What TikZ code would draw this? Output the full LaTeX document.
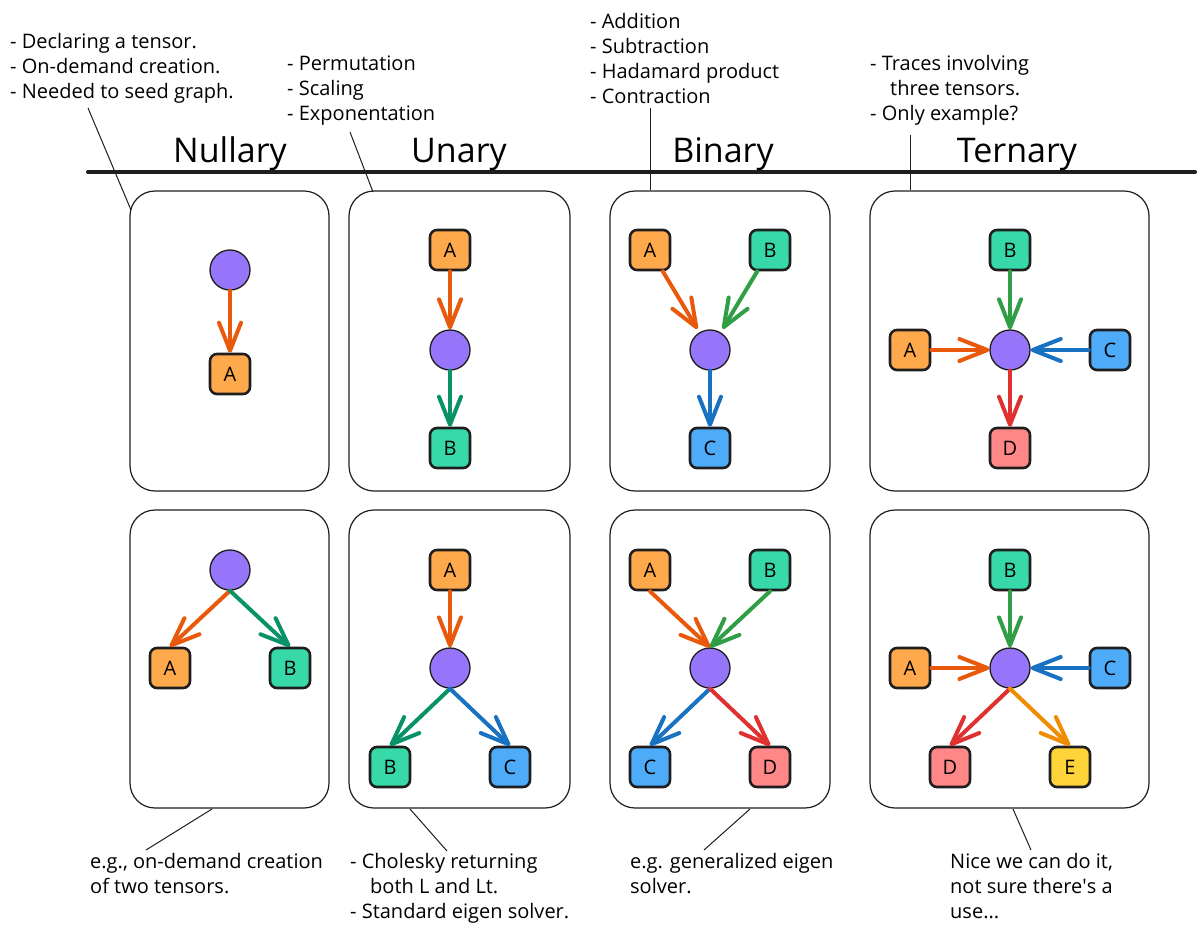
\documentclass[tikz,border=0pt]{standalone}
\usepackage{fontspec}
\setmainfont{Open Sans}
\usetikzlibrary{arrows.meta}
\definecolor{ink}{HTML}{1E1E1E}
\definecolor{opfill}{HTML}{9775FA}
\definecolor{fillA}{HTML}{FFA94D}
\definecolor{fillB}{HTML}{38D9A9}
\definecolor{fillC}{HTML}{4DABF7}
\definecolor{fillD}{HTML}{FF8787}
\definecolor{fillE}{HTML}{FFD43B}
\definecolor{arrA}{HTML}{E8590C}
\definecolor{arrB}{HTML}{2F9E44}
\definecolor{arrT}{HTML}{099268}
\definecolor{arrC}{HTML}{1971C2}
\definecolor{arrD}{HTML}{E03131}
\definecolor{arrE}{HTML}{F08C00}
\tikzset{
  panel/.style={draw=ink, line width=1.2pt, rounded corners=25pt},
  sq/.style={draw=ink, line width=2.6pt, rounded corners=7pt, minimum size=40pt, inner sep=0pt, font=\fontsize{20}{20}\selectfont},
  op/.style={circle, draw=ink, fill=opfill, line width=1.3pt, minimum size=40pt, inner sep=0pt},
  flow/.style={line width=4pt, line cap=round, -{Straight Barb[length=28pt,width=22pt,round]}},
  note/.style={anchor=north west, align=left, inner sep=0pt, font=\fontsize{20}{25}\selectfont},
  head/.style={anchor=base, inner sep=0pt, font=\fontsize{34}{40}\selectfont},
  lead/.style={draw=ink, line width=1pt}
}
\begin{document}
\begin{tikzpicture}[x=1pt,y=-1pt]
\useasboundingbox (0,0) rectangle (1202,935);
\fill[white] (0,0) rectangle (1202,935);

% headline rule
\coordinate (ruleL) at (88,172);
\coordinate (ruleR) at (1195,172);
\draw[ink, line width=4pt, line cap=round] (ruleL) -- (ruleR);

\node[head] (hN) at (230,162) {Nullary};
\node[head] (hU) at (459,162) {Unary};
\node[head] (hB) at (723,162) {Binary};
\node[head] (hT) at (1017,162) {Ternary};

% panels
\draw[panel] (130,191) rectangle (329,491);
\draw[panel] (349,191) rectangle (570,491);
\draw[panel] (610,191) rectangle (830,491);
\draw[panel] (870,191) rectangle (1149,491);
\draw[panel] (130,510) rectangle (329,808);
\draw[panel] (349,510) rectangle (570,808);
\draw[panel] (610,510) rectangle (830,808);
\draw[panel] (870,510) rectangle (1149,808);

% top notes
\node[note] (tN) at (10,30.5) {\strut- Declaring a tensor.\\- On-demand creation.\\- Needed to seed graph.};
\node[note] (tU) at (287,52.5) {\strut- Permutation\\- Scaling\\- Exponentation};
\node[note] (tB) at (590,10.5) {\strut- Addition\\- Subtraction\\- Hadamard product\\- Contraction};
\node[note] (tT) at (870,52.5) {\strut- Traces involving\\\hspace*{20pt}three tensors.\\- Only example?};

% bottom notes
\node[note] (bN) at (90,850.5) {\strut e.g., on-demand creation\\of two tensors.};
\node[note] (bU) at (350,850.5) {\strut- Cholesky returning\\\hspace*{20pt}both L and Lt.\\- Standard eigen solver.};
\node[note] (bB) at (630,850.5) {\strut e.g. generalized eigen\\solver.};
\node[note] (bT) at (950,850.5) {\strut Nice we can do it,\\not sure there\textquotesingle s a\\use...};

% leader lines
\coordinate (lN1) at (88,108);  \coordinate (lN2) at (131,210);
\coordinate (lU1) at (350,132); \coordinate (lU2) at (373,192);
\coordinate (lB1) at (650,108); \coordinate (lB2) at (650,190);
\coordinate (lT1) at (910,135); \coordinate (lT2) at (910,190);
\coordinate (mN1) at (212,809); \coordinate (mN2) at (146,850);
\coordinate (mU1) at (410,809); \coordinate (mU2) at (447,851);
\coordinate (mB1) at (750,809); \coordinate (mB2) at (704,850);
\coordinate (mT1) at (1013,809); \coordinate (mT2) at (1031,850);
\draw[lead] (lN1) -- (lN2);
\draw[lead] (lU1) -- (lU2);
\draw[lead] (lB1) -- (lB2);
\draw[lead] (lT1) -- (lT2);
\draw[lead] (mN1) -- (mN2);
\draw[lead] (mU1) -- (mU2);
\draw[lead] (mB1) -- (mB2);
\draw[lead] (mT1) -- (mT2);

% ---------- row 1 ----------
% nullary
\node[op] (o11) at (230,270) {};
\node[sq, fill=fillA] (A11) at (230,374) {A};
\draw[flow, arrA] (o11) -- (A11);
% unary
\node[sq, fill=fillA] (A12) at (450,250) {A};
\node[op] (o12) at (450,350) {};
\node[sq, fill=fillB] (B12) at (450,448) {B};
\draw[flow, arrA] (A12) -- (o12);
\draw[flow, arrT] (o12) -- (B12);
% binary
\node[sq, fill=fillA] (A13) at (650,250) {A};
\node[sq, fill=fillB] (B13) at (770,250) {B};
\node[op] (o13) at (710,350) {};
\node[sq, fill=fillC] (C13) at (710,448) {C};
\draw[flow, arrA, shorten >=4pt] (A13) -- (o13);
\draw[flow, arrB, shorten >=4pt] (B13) -- (o13);
\draw[flow, arrC] (o13) -- (C13);
% ternary
\node[sq, fill=fillB] (B14) at (1010,250) {B};
\node[sq, fill=fillA] (A14) at (910,350) {A};
\node[op] (o14) at (1010,350) {};
\node[sq, fill=fillC] (C14) at (1110,350) {C};
\node[sq, fill=fillD] (D14) at (1010,448) {D};
\draw[flow, arrB] (B14) -- (o14);
\draw[flow, arrA] (A14) -- (o14);
\draw[flow, arrC] (C14) -- (o14);
\draw[flow, arrD] (o14) -- (D14);

% ---------- row 2 ----------
% nullary
\node[op] (o21) at (230,570) {};
\node[sq, fill=fillA] (A21) at (170,668) {A};
\node[sq, fill=fillB] (B21) at (290,668) {B};
\draw[flow, arrA] (o21.south) -- (A21.north);
\draw[flow, arrT] (o21.south) -- (B21.north);
% unary
\node[sq, fill=fillA] (A22) at (450,570) {A};
\node[op] (o22) at (450,668) {};
\node[sq, fill=fillB] (B22) at (390,767) {B};
\node[sq, fill=fillC] (C22) at (510,767) {C};
\draw[flow, arrA] (A22) -- (o22);
\draw[flow, arrT] (o22.south) -- (B22.north);
\draw[flow, arrC] (o22.south) -- (C22.north);
% binary
\node[sq, fill=fillA] (A23) at (650,570) {A};
\node[sq, fill=fillB] (B23) at (770,570) {B};
\node[op] (o23) at (710,668) {};
\node[sq, fill=fillC] (C23) at (650,767) {C};
\node[sq, fill=fillD] (D23) at (770,767) {D};
\draw[flow, arrA] (A23.south) -- (o23.north);
\draw[flow, arrB] (B23.south) -- (o23.north);
\draw[flow, arrC] (o23.south) -- (C23.north);
\draw[flow, arrD] (o23.south) -- (D23.north);
% ternary
\node[sq, fill=fillB] (B24) at (1010,570) {B};
\node[sq, fill=fillA] (A24) at (910,668) {A};
\node[op] (o24) at (1010,668) {};
\node[sq, fill=fillC] (C24) at (1110,668) {C};
\node[sq, fill=fillD] (D24) at (950,767) {D};
\node[sq, fill=fillE] (E24) at (1070,767) {E};
\draw[flow, arrB] (B24) -- (o24);
\draw[flow, arrA] (A24) -- (o24);
\draw[flow, arrC] (C24) -- (o24);
\draw[flow, arrD] (o24.south) -- (D24.north);
\draw[flow, arrE] (o24.south) -- (E24.north);
\end{tikzpicture}
\end{document}
